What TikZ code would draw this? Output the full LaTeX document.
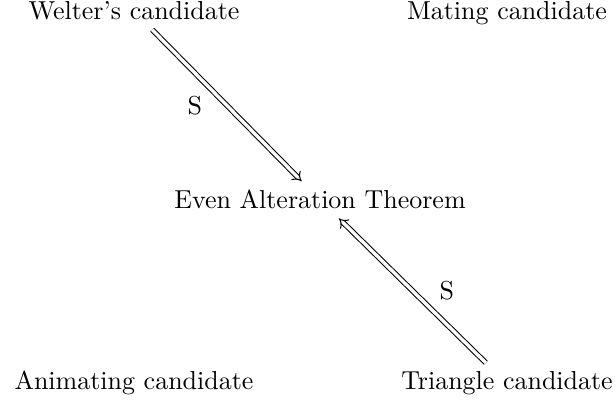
\documentclass[tikz,border=0pt]{standalone}
\usepackage{amsmath,amssymb}
\usetikzlibrary{arrows.meta, positioning}

\begin{document}
\begin{tikzpicture}[x=0.385pt, y=-0.385pt]
  \tikzset{
    cand/.style={anchor=base},
    imp/.style={
      double, double distance=1.3pt, line width=0.4pt,
      -{Implies[length=3.2pt, width=7pt]}
    },
    lbl/.style={font=\normalsize}
  }

  \useasboundingbox (0,0) rectangle (616,403);

  % top row
  \node[cand] (welter) at (134,20) {Welter's candidate};
  \node[cand] (mating) at (507,20) {Mating candidate};
  % middle
  \node[cand] (even) at (320,209) {Even Alteration Theorem};
  % bottom row
  \node[cand] (animating) at (134,390) {Animating candidate};
  \node[cand] (triangle) at (507,390) {Triangle candidate};

  \draw[imp] (welter) -- node[lbl, left=6pt]{S} (even);
  \draw[imp] (triangle) -- node[lbl, right=7pt]{S} (even);
\end{tikzpicture}
\end{document}
